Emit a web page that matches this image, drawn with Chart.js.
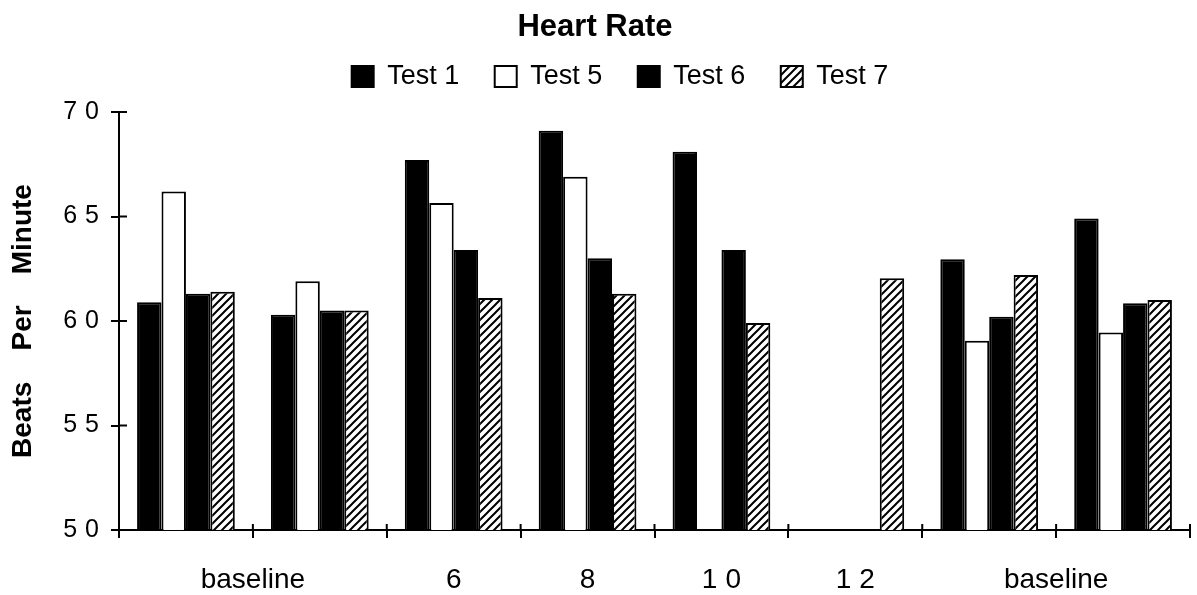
<!DOCTYPE html>
<html>
<head>
<meta charset="utf-8">
<script src="https://cdn.jsdelivr.net/npm/chart.js@4/dist/chart.umd.min.js"></script>
<style>
  html, body { margin: 0; padding: 0; background: #fff; }
  #wrap { width: 1197px; height: 595px; }
</style>
</head>
<body>
<div id="wrap"><canvas id="hr-chart" width="1197" height="595"></canvas></div>
<script>
// --- data ---
const categories = ['baseline', 'baseline', '6', '8', '10', '12', 'baseline', 'baseline'];
const test1 = [60.9, 60.3, 67.7, 69.1, 68.1, null, 62.95, 64.9];
const test5 = [66.2, 61.9, 65.65, 66.9, null, null, 59.05, 59.45];
const test6 = [61.3, 60.5, 63.4, 63.0, 63.4, null, 60.2, 60.85];
const test7 = [61.4, 60.5, 61.1, 61.3, 59.9, 62.05, 62.2, 61.0];
const yTicks = [50, 55, 60, 65, 70];

const FONT = "'Liberation Sans', Arial, Helvetica, sans-serif";

function hatchPattern() {
    const c = document.createElement('canvas');
    c.width = 8; c.height = 8;
    const g = c.getContext('2d');
    g.fillStyle = '#fff';
    g.fillRect(0, 0, 8, 8);
    g.strokeStyle = '#000';
    g.lineWidth = 2;
    g.beginPath();
    g.moveTo(-2, 10); g.lineTo(10, -2);
    g.moveTo(-6, 6); g.lineTo(6, -6);
    g.moveTo(2, 14); g.lineTo(14, 2);
    g.stroke();
    return g.createPattern(c, 'repeat');
}

// ticks that cross the axes + letter spacing for the y tick labels
const crossTicks = {
    id: 'crossTicks',
    afterDatasetsDraw(chart) {
        const { ctx, chartArea, scales: { x, y } } = chart;
        ctx.save();
        ctx.strokeStyle = '#000';
        ctx.lineWidth = 2;
        ctx.beginPath();
        y.ticks.forEach((t, i) => {
            const py = y.getPixelForTick(i);
            ctx.moveTo(chartArea.left, py);
            ctx.lineTo(chartArea.left + 8, py);
        });
        const step = x.getPixelForValue(1) - x.getPixelForValue(0);
        for (let i = 0; i <= categories.length; i++) {
            const px = x.getPixelForValue(0) + (i - 0.5) * step;
            ctx.moveTo(px, chartArea.bottom);
            ctx.lineTo(px, chartArea.bottom - 6);
        }
        ctx.stroke();
        ctx.restore();
        ctx.letterSpacing = '8px';
    },
    afterDraw(chart) {
        const { ctx, scales: { x } } = chart;
        ctx.letterSpacing = '0px';
        // one label per run of equal categories, centred under the run
        let i = 0;
        while (i < categories.length) {
            let j = i;
            while (j + 1 < categories.length && categories[j + 1] === categories[i]) j++;
            const px = (x.getPixelForValue(i) + x.getPixelForValue(j)) / 2;
            const numeric = /^\d+$/.test(categories[i]);
            ctx.save();
            ctx.font = '28px ' + FONT;
            ctx.fillStyle = '#000';
            ctx.textAlign = 'center';
            ctx.textBaseline = 'middle';
            if (numeric) ctx.letterSpacing = '8px';
            ctx.fillText(categories[i], px + (numeric ? 4 : 0), 580);
            ctx.restore();
            i = j + 1;
        }
    }
};

const legendShift = {
    id: 'legendShift',
    afterLayout(chart) {
        chart.legend.left += 25;
        chart.legend.right += 25;
    }
};

const hatch = hatchPattern();

new Chart(document.getElementById('hr-chart'), {
    type: 'bar',
    data: {
        labels: categories,
        datasets: [
            { label: 'Test 1', data: test1, backgroundColor: '#000', borderColor: '#000', borderWidth: 2 },
            { label: 'Test 5', data: test5, backgroundColor: '#fff', borderColor: '#000', borderWidth: 2 },
            { label: 'Test 6', data: test6, backgroundColor: '#000', borderColor: '#000', borderWidth: 2 },
            { label: 'Test 7', data: test7, backgroundColor: hatch, borderColor: '#000', borderWidth: 2 }
        ]
    },
    options: {
        responsive: false,
        animation: false,
        layout: { padding: { left: 0, right: 7, top: 0, bottom: 0 } },
        datasets: {
            bar: { categoryPercentage: 0.73, barPercentage: 1.0 }
        },
        scales: {
            x: {
                grid: { offset: true, drawOnChartArea: false, color: '#000', lineWidth: 2, tickLength: 8 },
                border: { color: '#000', width: 2 },
                ticks: { display: false },
                afterFit(scale) { scale.height = 65; }
            },
            // empty band between the legend and the plot
            xTop: {
                type: 'category',
                position: 'top',
                grid: { display: false },
                border: { display: false },
                ticks: { display: false },
                afterFit(scale) { scale.height = 12; }
            },
            y: {
                min: 50,
                max: 70,
                afterBuildTicks(scale) { scale.ticks = yTicks.map(v => ({ value: v })); },
                grid: { drawOnChartArea: false, color: '#000', lineWidth: 2, tickLength: 8 },
                border: { color: '#000', width: 2 },
                ticks: { z: 1, color: '#000', padding: 4, font: { size: 25, family: FONT } },
                title: {
                    display: true,
                    text: 'Beats    Per    Minute',
                    color: '#000',
                    padding: { top: 6, bottom: 0 },
                    font: { size: 28, weight: 'bold', family: FONT }
                },
                afterFit(scale) { scale.width = 119; }
            }
        },
        plugins: {
            title: {
                display: true,
                text: 'Heart Rate',
                color: '#000',
                padding: { top: 9, bottom: -18.7 },
                font: { size: 31, weight: 'bold', family: FONT }
            },
            legend: {
                labels: {
                    color: '#000',
                    boxWidth: 22,
                    boxHeight: 21,
                    padding: 35.5,
                    font: { size: 27, family: FONT }
                }
            },
            tooltip: { enabled: false }
        }
    },
    plugins: [crossTicks, legendShift]
});
</script>
</body>
</html>
